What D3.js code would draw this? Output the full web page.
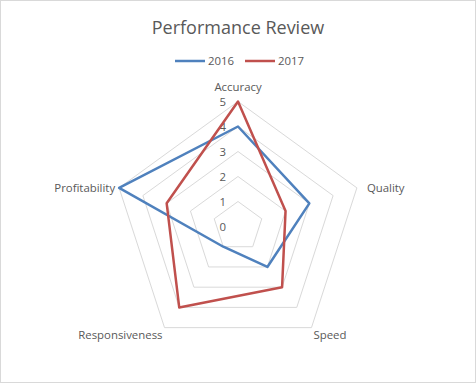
<!DOCTYPE html>
<html><head><meta charset="utf-8">
<script src="https://cdn.jsdelivr.net/npm/d3@7"></script>
<style>
html,body{margin:0;padding:0;background:#fff;}
svg{display:block;font-family:"Open Sans","Liberation Sans",sans-serif;}
</style></head>
<body>
<svg id="chart" width="476" height="383"></svg>
<script>
const categories = ["Accuracy", "Quality", "Speed", "Responsiveness", "Profitability"];
const values2016 = [4, 3, 2, 1, 5];
const values2017 = [5, 2, 3, 4, 3];
const seriesNames = ["2016", "2017"];
const tickValues = [0, 1, 2, 3, 4, 5];

const colors = ["#4F81BD", "#C0504D"];
const W = 476, H = 383;
const cx = 238, cy = 226.5, R = 125;
const svg = d3.select("#chart");

svg.append("rect").attr("x", 0.5).attr("y", 0.5).attr("width", W - 1).attr("height", H - 1)
  .attr("fill", "#fff").attr("stroke", "#d9d9d9");

const r = d3.scaleLinear().domain([0, 5]).range([0, R]);
const angle = d3.scaleLinear().domain([0, categories.length]).range([0, 2 * Math.PI]);
const pt = (i, v) => [cx + r(v) * Math.sin(angle(i)), cy - r(v) * Math.cos(angle(i))];

const g = svg.append("g");
// grid rings
tickValues.filter(t => t > 0).forEach(t => {
  const pts = categories.map((c, i) => pt(i, t));
  g.append("polygon").attr("points", pts.map(p => p.join(",")).join(" "))
    .attr("fill", "none").attr("stroke", "#d9d9d9").attr("stroke-width", 1);
});

// tick labels
g.selectAll(".tick").data(tickValues).enter().append("text")
  .attr("x", cx - 12).attr("y", d => cy - r(d) + 1).attr("dy", "0.35em")
  .attr("text-anchor", "end").attr("font-size", 11.4).attr("fill", "#595959")
  .text(d => d);

// category labels
const labelPos = [
  {dx: 0, dy: -14, anchor: "middle"},
  {dx: 10, dy: 0, anchor: "start"},
  {dx: 2, dy: 7, anchor: "start"},
  {dx: -2, dy: 7, anchor: "end"},
  {dx: -4, dy: 0, anchor: "end"}
];
categories.forEach((c, i) => {
  const p = pt(i, 5);
  g.append("text").attr("x", p[0] + labelPos[i].dx).attr("y", p[1] + labelPos[i].dy)
    .attr("dy", "0.35em").attr("text-anchor", labelPos[i].anchor)
    .attr("font-size", 11.4).attr("fill", "#595959").text(c);
});

// series
const line = d3.line().curve(d3.curveLinearClosed);
[values2016, values2017].forEach((vals, s) => {
  g.append("path").attr("d", line(vals.map((v, i) => pt(i, v))))
    .attr("fill", "none").attr("stroke", colors[s]).attr("stroke-width", 2.5)
    .attr("stroke-linejoin", "round");
});

// title
svg.append("text").attr("x", W / 2).attr("y", 28).attr("dy", "0.35em")
  .attr("text-anchor", "middle").attr("font-size", 18).attr("fill", "#595959")
  .text("Performance Review");

// legend
const legendX = [175, 245];
seriesNames.forEach((n, s) => {
  const lg = svg.append("g").attr("transform", `translate(${legendX[s]},61)`);
  lg.append("line").attr("x1", 0).attr("x2", 30).attr("y1", 0).attr("y2", 0)
    .attr("stroke", colors[s]).attr("stroke-width", 2.5);
  lg.append("text").attr("x", 33).attr("y", 0).attr("dy", "0.35em")
    .attr("font-size", 11.4).attr("fill", "#595959").text(n);
});
</script>
</body></html>
